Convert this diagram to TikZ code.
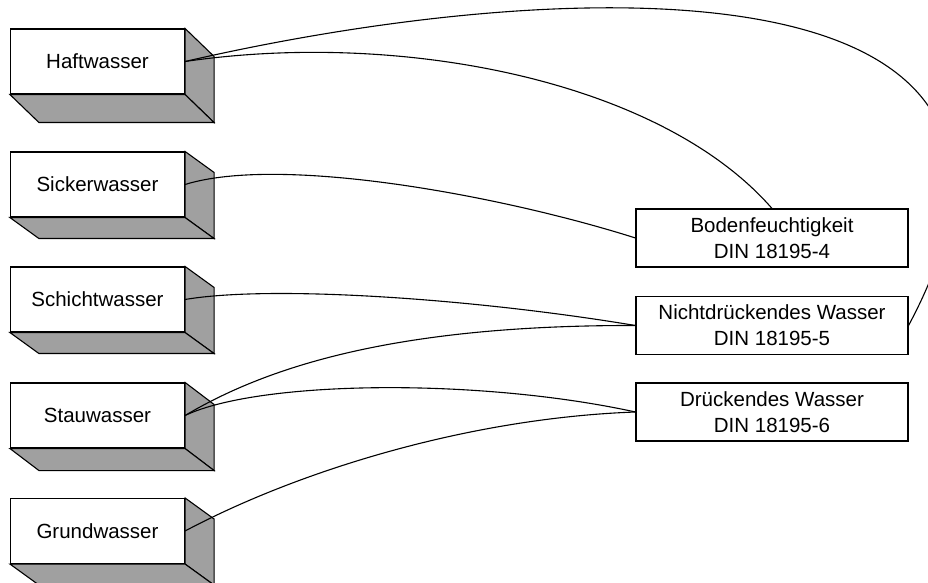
\documentclass[tikz,border=0pt]{standalone}
\usepackage{fontspec}
\setmainfont{Liberation Sans}
\definecolor{sidegray}{RGB}{160,160,160}
\tikzset{
  wasser/.style={draw,fill=white,minimum width=87pt,minimum height=32.5pt,inner sep=0pt},
  din/.style={draw,fill=white,align=center,minimum width=136pt,minimum height=29pt,inner sep=0pt},
}
\begin{document}
\begin{tikzpicture}[x=0.5pt,y=-0.5pt,line width=0.55pt,font=\fontsize{10.25}{13}\selectfont]
	\useasboundingbox (0,0) rectangle (928,583);
	\node[wasser] (haft) at (97.5,61.5) {Haftwasser};
	\node[wasser] (sick) at (97.5,184.5) {Sickerwasser};
	\node[wasser] (schicht) at (97.5,299.5) {Schichtwasser};
	\node[wasser] (stau) at (97.5,415.5) {Stauwasser};
	\node[wasser] (grund) at (97.5,531) {Grundwasser};
	\node[din] (boden) at (772,238) {Bodenfeuchtigkeit\\DIN 18195-4};
	\node[din] (nicht) at (772,325.5) {Nichtdrückendes Wasser\\DIN 18195-5};
	\node[din] (drueck) at (772,412) {Drückendes Wasser\\DIN 18195-6};
	% side and bottom faces
	\foreach \n/\d in {haft/28,sick/21,schicht/21,stau/22,grund/21} {
		\filldraw[fill=sidegray] (\n.north east) -- ++(29,\d) -- ([shift={(29,\d)}]\n.south east) -- (\n.south east) -- cycle;
		\filldraw[fill=sidegray] (\n.south west) -- (\n.south east) -- ([shift={(29,\d)}]\n.south east) -- ([shift={(29,\d)}]\n.south west) -- cycle;
	}
	\draw (haft.east) .. controls (400,30) and (660,80) .. (boden.north);
	\draw (haft.east) .. controls (560,-25) and (1110,-50) .. (nicht.east);
	\draw (sick.east) .. controls (280,155) and (500,195) .. (boden.west);
	\draw (schicht.east) .. controls (270,285) and (470,298) .. (nicht.west);
	\draw (stau.east) .. controls (270,365) and (400,325) .. (nicht.west);
	\draw (stau.east) .. controls (260,380) and (480,378) .. (drueck.west);
	\draw (grund.east) .. controls (300,470) and (470,418) .. (drueck.west);
\end{tikzpicture}
\end{document}
